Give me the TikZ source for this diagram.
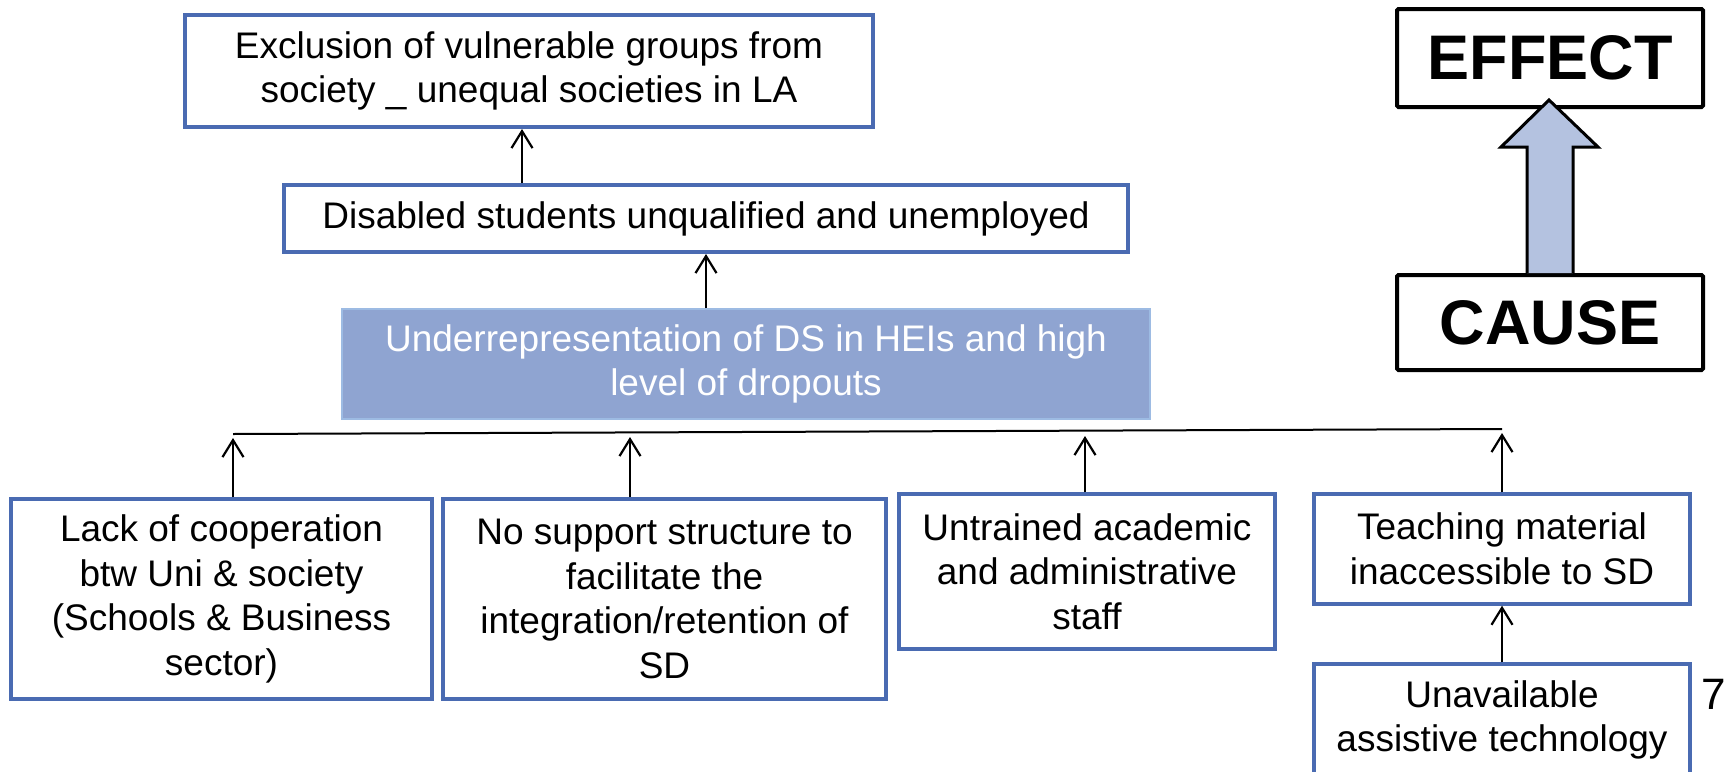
\documentclass[tikz,border=0pt]{standalone}
\usepackage{fontspec}
\setmainfont{Liberation Sans}
\usetikzlibrary{arrows.meta}
\definecolor{bbord}{HTML}{4A6BB2}
\definecolor{ufill}{HTML}{8FA4D1}
\definecolor{uline}{HTML}{9DBBE3}
\definecolor{afill}{HTML}{B4C2E0}
\tikzset{
  bbox/.style={draw=bbord, line width=3.4pt, fill=white, align=center, inner sep=0pt,
    font=\fontsize{37}{44.5}\selectfont},
  ubox/.style={draw=uline, line width=1.5pt, fill=ufill, text=white, align=center, inner sep=0pt,
    font=\fontsize{37}{44.5}\selectfont},
  kbox/.style={draw=black, line width=4pt, rounded corners=1.5pt, fill=white, align=center, inner sep=0pt,
    font=\fontsize{63}{70}\selectfont\bfseries},
  arr/.style={line width=2.2pt, -{Straight Barb[length=17pt,width=21pt,line width=2.2pt]}},
}
\begin{document}
\begin{tikzpicture}[x=1pt,y=-1pt]
\useasboundingbox (0,0) rectangle (1726,771);
% top boxes
\node[bbox, minimum width=688pt, minimum height=112pt] (ex) at (529,71)
  {Exclusion of vulnerable groups from\\society \_ unequal societies in LA};
\node[bbox, minimum width=844pt, minimum height=67pt] (dis) at (706,218.5)
  {Disabled students unqualified and unemployed};
\node[ubox, minimum width=808pt, minimum height=110pt] (und) at (746,364)
  {Underrepresentation of DS in HEIs and high\\level of dropouts};
% bottom boxes
\node[bbox, minimum width=421pt, minimum height=200pt] (n1) at (221.5,599)
  {Lack of cooperation\\btw Uni \& society\\(Schools \& Business\\sector)};
\node[bbox, minimum width=443pt, minimum height=200pt] (n2) at (664.5,599)
  {No support structure to\\facilitate the\\integration/retention of\\SD};
\node[bbox, minimum width=376pt, minimum height=155pt] (n3) at (1087,571.5)
  {Untrained academic\\and administrative\\staff};
\node[bbox, minimum width=376pt, minimum height=110pt] (n4) at (1502,549)
  {Teaching material\\inaccessible to SD};
\node[bbox, minimum width=376pt, minimum height=112pt] (n5) at (1502,720)
  {Unavailable\\assistive technology};
% page number
\node[anchor=east, inner sep=0pt, font=\fontsize{44}{50}\selectfont] (pg) at (1726,694) {7};
% effect / cause
\node[kbox, minimum width=306pt, minimum height=98pt] (eff) at (1550,58) {EFFECT};
\node[kbox, minimum width=306pt, minimum height=95pt] (cau) at (1550,322.5) {CAUSE};
\draw[line width=3pt, fill=afill, line join=miter]
  ([xshift=-23pt]cau.north) -- ([xshift=-23pt]cau.north |- 0,147) -- ++(-26,0)
  -- (1549,100) -- (1598,147) -- ([xshift=23pt]cau.north |- 0,147) -- ([xshift=23pt]cau.north);
% connectors top
\coordinate (te) at (522,129);
\draw[arr] (dis.north -| te) -- (te);
\coordinate (td) at (706,254);
\draw[arr] (und.north -| td) -- (td);
% horizontal bar
\coordinate (L) at (233,434);
\coordinate (R) at (1502,429);
\draw[line width=2pt] (L) -- (R);
\coordinate (t1) at (233,438);
\coordinate (t2) at (630,437);
\coordinate (t3) at (1085,436);
\coordinate (t4) at (1502,433);
\draw[arr] (n1.north -| t1) -- (t1);
\draw[arr] (n2.north -| t2) -- (t2);
\draw[arr] (n3.north -| t3) -- (t3);
\draw[arr] (n4.north -| t4) -- (t4);
\draw[arr] (n5.north) -- (n4.south);
\end{tikzpicture}
\end{document}
